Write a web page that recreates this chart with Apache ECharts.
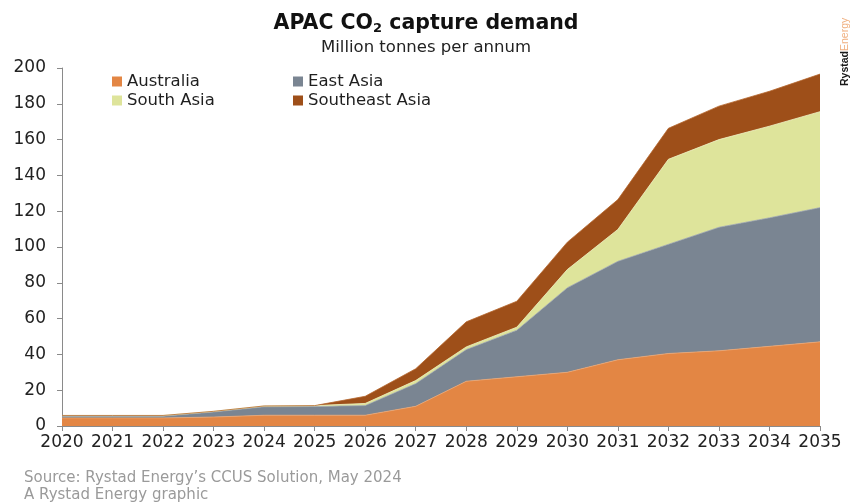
<!DOCTYPE html>
<html>
<head>
<meta charset="utf-8">
<script src="https://cdn.jsdelivr.net/npm/echarts@6/dist/echarts.min.js"></script>
<style>
  html, body { margin: 0; padding: 0; background: #fff; }
  #chart { width: 854px; height: 502px; }
</style>
</head>
<body>
<div id="chart"></div>
<script>
// Years on the horizontal axis
const years = ['2020','2021','2022','2023','2024','2025','2026','2027','2028','2029','2030','2031','2032','2033','2034','2035'];

// Capture demand by region, million tonnes per annum
const australia     = [4.5, 4.5, 4.5, 5.0, 6.0, 6.0, 6.0, 11.0, 25.0, 27.5, 30.0, 37.0, 40.5, 42.0, 44.5, 47.0];
const eastAsia      = [1.0, 1.0, 1.0, 2.8, 4.7, 4.9, 5.4, 12.7, 17.7, 26.0, 47.2, 55.0, 61.0, 69.0, 71.8, 75.0];
const southAsia     = [0.4, 0.4, 0.4, 0.4, 0.5, 0.5, 1.2, 1.7, 1.5, 1.7, 10.2, 17.8, 47.5, 49.0, 51.2, 53.6];
const southeastAsia = [0, 0, 0, 0, 0, 0, 4.0, 6.6, 14.0, 14.5, 15.3, 16.7, 17.3, 18.7, 19.5, 21.0];

const seriesNames = ['Australia', 'East Asia', 'South Asia', 'Southeast Asia'];
const seriesData  = [australia, eastAsia, southAsia, southeastAsia];
const fills = ['#E38644', '#7A8592', '#DEE49B', '#9E4F19'];
const edges = ['#F0A66E', '#99A2AC', '#EEF2C0', '#B5672E'];

const FONT = '"DejaVu Sans", Verdana, sans-serif';
const FONT_NARROW = '"Liberation Sans", Arial, Helvetica, sans-serif';

const chart = echarts.init(document.getElementById('chart'), null, { renderer: 'canvas' });

// One legend block per entry so the two columns line up
const legendPos = [
  { left: 107, top: 68 },
  { left: 288, top: 68 },
  { left: 107, top: 87 },
  { left: 288, top: 87 }
];
const legends = seriesNames.map((name, i) => ({
  data: [name],
  left: legendPos[i].left,
  top: legendPos[i].top,
  orient: 'horizontal',
  icon: 'rect',
  itemWidth: 10,
  itemHeight: 10,
  itemGap: 4,
  selectedMode: false,
  textStyle: { fontFamily: FONT, fontSize: 16.5, color: '#1f1f1f', padding: [0, 0, 0, 0] }
}));

chart.setOption({
  animation: false,
  backgroundColor: '#ffffff',
  color: fills,
  title: [
    {
      text: 'APAC CO{sub|2} capture demand',
      left: 421,
      textAlign: 'center',
      top: 8,
      textStyle: {
        fontFamily: FONT,
        fontSize: 20.5,
        fontWeight: 'bold',
        color: '#111',
        rich: {
          sub: { fontFamily: FONT, fontSize: 13, fontWeight: 'bold', color: '#111', padding: [9, 0, 0, 0] }
        }
      }
    },
    {
      text: 'Million tonnes per annum',
      left: 421,
      textAlign: 'center',
      top: 34,
      textStyle: { fontFamily: FONT, fontSize: 16.5, fontWeight: 'normal', color: '#222' }
    }
  ],
  legend: legends,
  grid: { left: 62, right: 34, top: 68, bottom: 76, containLabel: false },
  xAxis: {
    type: 'category',
    data: years,
    boundaryGap: false,
    axisLine: { show: true, lineStyle: { color: '#8a8a8a', width: 1 } },
    axisTick: { show: true, alignWithLabel: true, length: 5, lineStyle: { color: '#8a8a8a' } },
    axisLabel: { fontFamily: FONT, fontSize: 17, color: '#222', margin: 8, interval: 0 },
    splitLine: { show: false }
  },
  yAxis: {
    type: 'value',
    min: 0,
    max: 200,
    interval: 20,
    axisLine: { show: true, lineStyle: { color: '#8a8a8a', width: 1 } },
    axisTick: { show: true, length: 5, lineStyle: { color: '#8a8a8a' } },
    axisLabel: { fontFamily: FONT, fontSize: 17, color: '#222', margin: 16 },
    splitLine: { show: false }
  },
  series: seriesNames.map((name, i) => ({
    name: name,
    type: 'line',
    stack: 'total',
    data: seriesData[i],
    symbol: 'none',
    smooth: false,
    lineStyle: { width: 0.8, color: edges[i] },
    itemStyle: { color: fills[i] },
    areaStyle: { color: fills[i], opacity: 1 },
    emphasis: { disabled: true },
    z: 2
  })),
  graphic: [
    {
      type: 'text',
      x: 840,
      y: 86,
      rotation: Math.PI / 2,
      style: {
        text: '{a|Rystad}{b|Energy}',
        rich: {
          a: { fontFamily: FONT_NARROW, fontSize: 10.5, fontWeight: 'bold', fill: '#1a1a1a' },
          b: { fontFamily: FONT_NARROW, fontSize: 10.5, fontWeight: 'normal', fill: '#F0B080' }
        }
      }
    },
    {
      type: 'text',
      left: 24,
      top: 471,
      style: { text: 'Source: Rystad Energy\u2019s CCUS Solution, May 2024', font: '15px ' + FONT, fill: '#9a9a9a' }
    },
    {
      type: 'text',
      left: 24,
      top: 488,
      style: { text: 'A Rystad Energy graphic', font: '15px ' + FONT, fill: '#9a9a9a' }
    }
  ]
});
</script>
</body>
</html>
